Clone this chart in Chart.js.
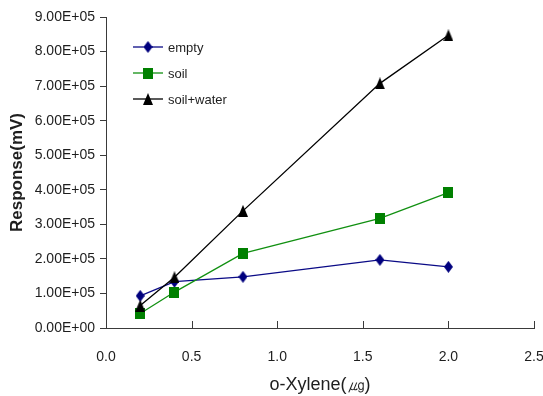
<!DOCTYPE html>
<html>
<head>
<meta charset="utf-8">
<script src="https://cdn.jsdelivr.net/npm/chart.js@4.4.1/dist/chart.umd.min.js"></script>
<style>
  html, body { margin: 0; padding: 0; background: #fff; }
  #wrap { width: 543px; height: 396px; }
</style>
</head>
<body>
<div id="wrap"><canvas id="chart" width="543" height="396"></canvas></div>
<script>
(function() {
    'use strict';

    // o-Xylene amounts (ug) and detector response for each chamber setup
    const amounts = [0.2, 0.4, 0.8, 1.6, 2.0];
    const seriesNames = ['empty', 'soil', 'soil+water'];
    const emptyResp = [93000, 134000, 148000, 197000, 177000];
    const soilResp = [42000, 104000, 216000, 317000, 392000];
    const soilWaterResp = [65000, 147000, 339000, 708000, 847000];

    const xTicks = [0, 0.5, 1.0, 1.5, 2.0, 2.5];
    const yTicks = [0, 1e5, 2e5, 3e5, 4e5, 5e5, 6e5, 7e5, 8e5, 9e5];

    const AXIS_COLOR = '#3a3a3a';
    const TEXT_COLOR = '#1e1e1e';
    const FONT = '"Liberation Sans", Arial, sans-serif';

    // small marker bitmaps, slightly taller than wide
    function makeMarker(kind, color, w, h) {
        const c = document.createElement('canvas');
        c.width = w; c.height = h;
        const g = c.getContext('2d');
        g.fillStyle = color;
        g.beginPath();
        if (kind === 'diamond') {
            g.moveTo(w / 2, 0); g.lineTo(w, h / 2); g.lineTo(w / 2, h); g.lineTo(0, h / 2);
        } else if (kind === 'triangle') {
            g.moveTo(w / 2, 0); g.lineTo(w, h); g.lineTo(0, h);
        } else {
            g.rect(0, 0, w, h);
        }
        g.closePath();
        g.fill();
        return c;
    }

    const markers = [
        makeMarker('diamond', '#00007e', 9, 12),
        makeMarker('square', '#008000', 10, 11),
        makeMarker('triangle', '#000000', 10, 12)
    ];
    const lineColors = ['#0a0a86', '#119011', '#000000'];

    function toPoints(values) {
        return amounts.map((x, i) => ({ x: x, y: values[i] }));
    }

    function sciLabel(v) {
        const parts = Number(v).toExponential(2).toUpperCase().split('E');
        let exp = parseInt(parts[1], 10);
        const sign = exp < 0 ? '-' : '+';
        exp = Math.abs(exp);
        return parts[0] + 'E' + sign + (exp < 10 ? '0' + exp : '' + exp);
    }

    // x ticks point into the plot area
    const innerTicks = {
        id: 'innerTicks',
        afterDraw(chart) {
            const ctx = chart.ctx;
            const xs = chart.scales.x;
            const bottom = chart.chartArea.bottom;
            ctx.save();
            ctx.strokeStyle = AXIS_COLOR;
            ctx.lineWidth = 1;
            xTicks.forEach(v => {
                if (v === xTicks[0]) return;
                const px = Math.round(xs.getPixelForValue(v)) + 0.5;
                ctx.beginPath();
                ctx.moveTo(px, bottom);
                ctx.lineTo(px, bottom - 7);
                ctx.stroke();
            });
            ctx.restore();
        }
    };

    // legend box in the upper left of the plot
    const insetLegend = {
        id: 'insetLegend',
        afterDatasetsDraw(chart) {
            const ctx = chart.ctx;
            const area = chart.chartArea;
            const x0 = area.left + 27;
            const y0 = area.top + 30;
            ctx.save();
            ctx.font = '13px ' + FONT;
            ctx.textBaseline = 'middle';
            ctx.fillStyle = TEXT_COLOR;
            seriesNames.forEach((name, i) => {
                const y = y0 + i * 26;
                ctx.strokeStyle = lineColors[i];
                ctx.lineWidth = 1.3;
                ctx.beginPath();
                ctx.moveTo(x0, y);
                ctx.lineTo(x0 + 30, y);
                ctx.stroke();
                const m = markers[i];
                ctx.drawImage(m, x0 + 15 - m.width / 2, y - m.height / 2);
                ctx.fillText(name, x0 + 35, y + 1);
            });
            ctx.restore();
        }
    };

    const allValues = [emptyResp, soilResp, soilWaterResp];

    const datasets = seriesNames.map((name, i) => ({
        label: name,
        data: toPoints(allValues[i]),
        showLine: true,
        borderColor: lineColors[i],
        borderWidth: 1.3,
        pointStyle: markers[i],
        pointRadius: 6,
        order: 3 - i
    }));

    const ctx = document.getElementById('chart').getContext('2d');
    new Chart(ctx, {
        type: 'scatter',
        data: { datasets: datasets },
        options: {
            responsive: false,
            animation: false,
            layout: { padding: { top: 17, right: 9, left: 0, bottom: 0 } },
            plugins: {
                legend: { display: false },
                tooltip: { enabled: false }
            },
            scales: {
                x: {
                    type: 'linear',
                    min: 0,
                    max: 2.5,
                    afterFit(scale) {
                        scale.height = 68;
                        scale.paddingLeft = 0;
                        scale.paddingRight = 0;
                    },
                    afterBuildTicks(scale) { scale.ticks = xTicks.map(v => ({ value: v })); },
                    grid: { drawOnChartArea: false, drawTicks: false },
                    border: { display: true, color: AXIS_COLOR, width: 1 },
                    ticks: {
                        padding: 21,
                        color: TEXT_COLOR,
                        font: { family: FONT, size: 14 },
                        callback: v => Number(v).toFixed(1)
                    },
                    title: {
                        display: true,
                        text: 'o-Xylene(㎍)',
                        color: TEXT_COLOR,
                        padding: { top: 2, bottom: 0 },
                        font: { family: FONT, size: 18 }
                    }
                },
                y: {
                    type: 'linear',
                    min: 0,
                    max: 900000,
                    afterFit(scale) { scale.width = 106; },
                    afterBuildTicks(scale) { scale.ticks = yTicks.map(v => ({ value: v })); },
                    grid: { drawOnChartArea: false, drawTicks: true, tickLength: 6, color: AXIS_COLOR },
                    border: { display: true, color: AXIS_COLOR, width: 1 },
                    ticks: {
                        padding: 5,
                        color: TEXT_COLOR,
                        font: { family: FONT, size: 14 },
                        callback: v => sciLabel(v)
                    },
                    title: {
                        display: true,
                        text: 'Response(mV)',
                        color: TEXT_COLOR,
                        padding: { top: 7, bottom: 0 },
                        font: { family: FONT, size: 17, weight: 'bold' }
                    }
                }
            }
        },
        plugins: [innerTicks, insetLegend]
    });
})();
</script>
</body>
</html>
